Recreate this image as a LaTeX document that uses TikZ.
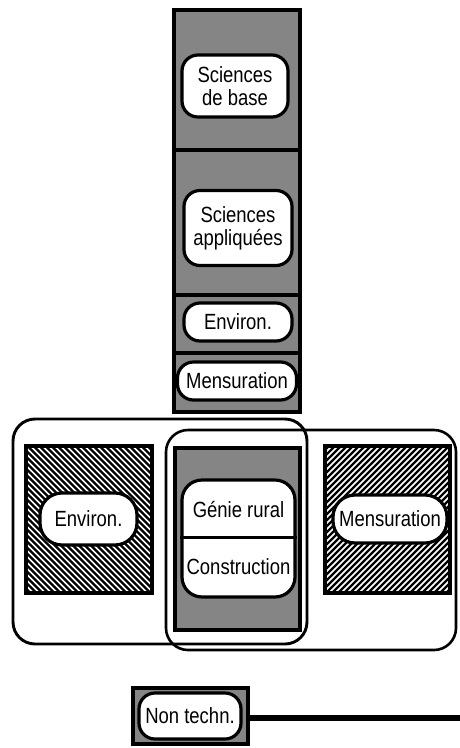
\documentclass[tikz,border=0pt]{standalone}
\usepackage{fontspec}
\setmainfont{Liberation Sans}[FakeStretch=0.84]
\begin{document}
\begin{tikzpicture}[x=1pt,y=-1pt,
  lbl/.style={font=\fontsize{22}{23}\selectfont, align=center, inner sep=0pt},
  pill/.style={lbl, draw, fill=white, line width=3.2pt, rounded corners=16pt},
  tone/.style={draw, fill=black!48, line width=3.4pt, inner sep=0pt},
  frame/.style={draw, line width=2.9pt, rounded corners=22pt, inner sep=0pt},
  hatchNW/.style={draw, line width=3.4pt, inner sep=0pt,
    path picture={\foreach \k in {-180,-174,...,180}
      \draw[line width=2.2pt] ([shift={(\k-100,-100)}]path picture bounding box.center) -- ++(200,200);}},
  hatchNE/.style={draw, line width=3.4pt, inner sep=0pt,
    path picture={\foreach \k in {-180,-174,...,180}
      \draw[line width=2.2pt] ([shift={(\k-100,100)}]path picture bounding box.center) -- ++(200,-200);}},
  bar/.style={line width=6pt}]
\useasboundingbox[fill=white] (0,0) rectangle (460,748);

% stacked column of course groups
\node[tone, minimum width=126, minimum height=140] (c1) at (237,80) {};
\node[tone, minimum width=126, minimum height=145] (c2) at (237,222.5) {};
\node[tone, minimum width=126, minimum height=58] (c3) at (237,324) {};
\node[tone, minimum width=126, minimum height=59] (c4) at (237,382.5) {};

\node[pill, minimum width=106, minimum height=62] (sb) at (235,86) {Sciences\\de base};
\node[pill, minimum width=108, minimum height=75] (sa) at (238,228) {Sciences\\appliquées};
\node[pill, minimum width=108, minimum height=38] (env1) at (238,322) {Environ.};
\node[pill, minimum width=119, minimum height=38] (mes1) at (237,381) {Mensuration};

% two overlapping option frames
\node[frame, minimum width=294, minimum height=225] (lf) at (160,531.5) {};
\node[frame, line width=2.6pt, minimum width=290, minimum height=220] (rf) at (311,540) {};

% hatched option blocks
\node[hatchNW, minimum width=126, minimum height=147] (hl) at (89,519.5) {};
\node[hatchNE, minimum width=125, minimum height=147] (hr) at (387.5,519.5) {};
\node[pill, minimum width=97, minimum height=52, rounded corners=22pt] (env2) at (88.5,519) {Environ.};
\node[pill, minimum width=114, minimum height=48, rounded corners=22pt] (mes2) at (390,519) {Mensuration};

% central common block
\node[tone, line width=3.8pt, minimum width=125, minimum height=182] (mid) at (237.5,539) {};
\node[pill, minimum width=113, minimum height=117, rounded corners=20pt] (gbox) at (238.5,538.5) {};
\coordinate (div) at (0,537);
\draw[line width=3pt] (gbox.west |- div) -- (gbox.east |- div);
\node[lbl] (genie) at (238.5,509) {Génie rural};
\node[lbl] (constr) at (238.5,567) {Construction};

% non-technical block and its bar
\node[tone, minimum width=115, minimum height=56] (nsq) at (190.5,716) {};
\node[pill, minimum width=102, minimum height=46] (nt) at (190,716) {Non techn.};
\coordinate (barend) at (460,718);
\draw[bar] (nsq.east |- barend) -- (barend);
\end{tikzpicture}
\end{document}
